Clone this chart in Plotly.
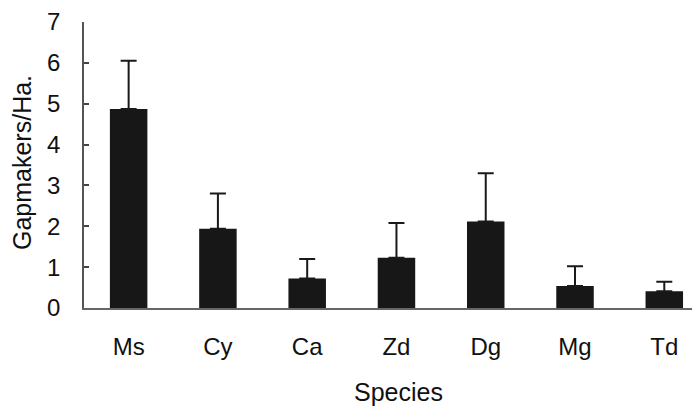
import plotly.graph_objects as go

species = ["Ms", "Cy", "Ca", "Zd", "Dg", "Mg", "Td"]
means = [4.87, 1.94, 0.72, 1.23, 2.12, 0.54, 0.41]
upper = [6.05, 2.80, 1.20, 2.08, 3.30, 1.02, 0.64]
y_ticks = [0, 1, 2, 3, 4, 5, 6, 7]

err = [u - m for u, m in zip(upper, means)]

fig = go.Figure()
fig.add_trace(go.Bar(
    x=species, y=means, width=0.42,
    marker=dict(color="#171717", line=dict(width=0)),
    error_y=dict(type="data", array=err, symmetric=False, arrayminus=[0]*len(err),
                 color="#1a1a1a", thickness=2, width=8),
    showlegend=False, hoverinfo="skip",
))

fnt = "Liberation Sans, Arial, sans-serif"
fig.update_layout(
    width=692, height=405, autosize=False,
    margin=dict(l=76, r=0, t=12, b=105),
    paper_bgcolor="white", plot_bgcolor="white",
    font=dict(family=fnt, color="#111", size=24),
    xaxis=dict(type="category", range=[-0.5, 6.4], ticks="", showgrid=False,
               zeroline=False, showline=True, linecolor="#666", linewidth=1.5,
               ticklabelstandoff=16, tickfont=dict(size=24, family=fnt, color="#111")),
    yaxis=dict(range=[0, 7], tickvals=y_ticks, ticks="inside", ticklen=5, tickwidth=1.5,
               tickcolor="#444", showgrid=False, zeroline=False, showline=True,
               linecolor="#555", linewidth=1.5, ticklabelstandoff=17,
               ticklabeloverflow="allow",
               tickfont=dict(size=24, family=fnt, color="#111")),
    annotations=[
        dict(text="Gapmakers/Ha.", xref="paper", yref="paper", x=-0.1006, y=0.507,
             xanchor="center", yanchor="middle", textangle=-90, showarrow=False,
             font=dict(size=25, family=fnt, color="#111")),
        dict(text="Species", xref="paper", yref="paper", x=0.511, y=-0.292,
             xanchor="center", yanchor="middle", showarrow=False,
             font=dict(size=25, family=fnt, color="#111")),
    ],
)
fig.write_html("out.html")
